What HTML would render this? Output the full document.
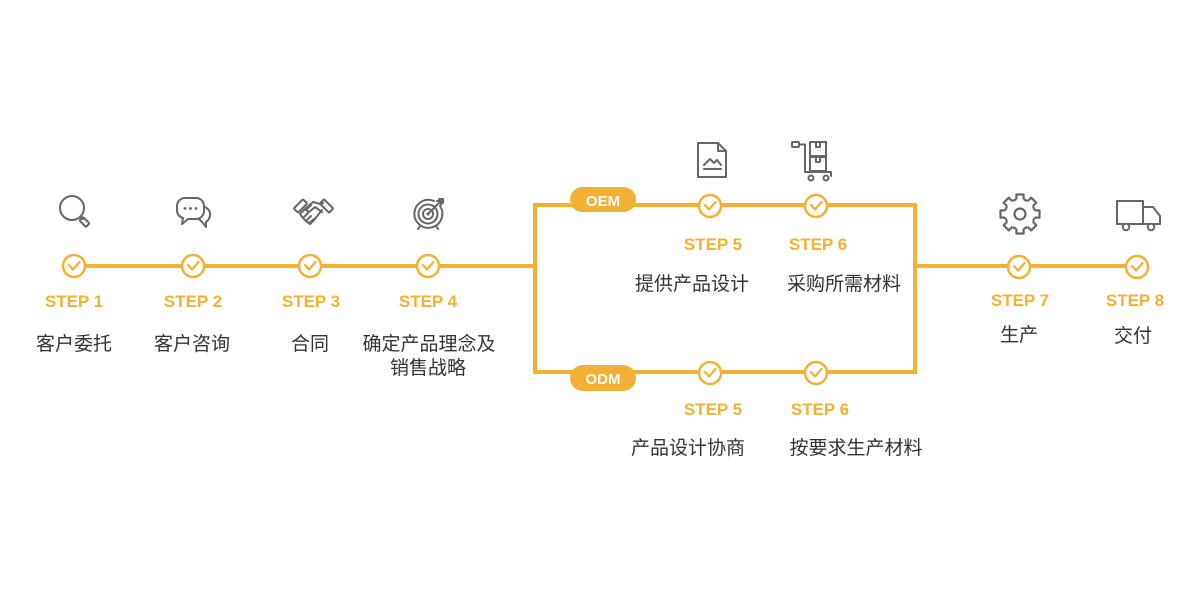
<!DOCTYPE html>
<html><head><meta charset="utf-8"><style>
html,body{margin:0;padding:0;background:#fff;}
svg{display:block;}
.st{font-family:"Liberation Sans","Noto Sans CJK SC",sans-serif;font-weight:bold;font-size:17px;fill:#f2b134;text-anchor:middle;}
.cn{font-family:"Liberation Sans","Noto Sans CJK SC",sans-serif;font-size:19px;fill:#333;text-anchor:middle;}
.pl{font-family:"Liberation Sans",sans-serif;font-weight:bold;font-size:15px;fill:#fff;text-anchor:middle;}
.ic{fill:none;stroke:#666;stroke-width:2;stroke-linejoin:round;stroke-linecap:round;}
</style></head><body>
<svg width="1200" height="594" viewBox="0 0 1200 594" xmlns="http://www.w3.org/2000/svg">
<defs>
<g id="ck">
<circle cx="0" cy="0" r="11" fill="#fff" stroke="#f2b134" stroke-width="2.5"/>
<path d="M-5,-1 L-1,3.5 L5.5,-4" fill="none" stroke="#f2b134" stroke-width="2.2" stroke-linecap="round" stroke-linejoin="round"/>
</g>
<g id="tooth">
<path d="M-3.6,-13 L-3.6,-19.5 L3.6,-19.5 L3.6,-13 Z" fill="#fff"/>
<path d="M-3.6,-14.6 L-3.6,-19.5 L3.6,-19.5 L3.6,-14.6" fill="none" stroke="#666" stroke-width="2.2" stroke-linejoin="round"/>
</g>
</defs>

<!-- lines -->
<g stroke="#f2b134" stroke-width="4" fill="none">
<line x1="74" y1="266" x2="537" y2="266"/>
<line x1="913" y1="266" x2="1137" y2="266"/>
<path d="M555,205 L535,205 L535,372 L555,372"/>
<path d="M535,205 L915,205 L915,372 L535,372"/>
</g>

<!-- pills -->
<rect x="570" y="187" width="66" height="25" rx="12.5" fill="#f2b134"/>
<text class="pl" x="603" y="206">OEM</text>
<rect x="570" y="365" width="66" height="26" rx="13" fill="#f2b134"/>
<text class="pl" x="603" y="384">ODM</text>

<!-- check circles -->
<use href="#ck" x="74" y="266"/>
<use href="#ck" x="193" y="266"/>
<use href="#ck" x="310" y="266"/>
<use href="#ck" x="428" y="266"/>
<use href="#ck" x="710" y="206"/>
<use href="#ck" x="816" y="206"/>
<use href="#ck" x="710" y="373"/>
<use href="#ck" x="816" y="373"/>
<use href="#ck" x="1019" y="267"/>
<use href="#ck" x="1137" y="267"/>

<!-- step labels -->
<text class="st" x="74" y="307">STEP 1</text>
<text class="st" x="193" y="307">STEP 2</text>
<text class="st" x="311" y="307">STEP 3</text>
<text class="st" x="428" y="307">STEP 4</text>
<text class="st" x="713" y="250">STEP 5</text>
<text class="st" x="818" y="250">STEP 6</text>
<text class="st" x="713" y="415">STEP 5</text>
<text class="st" x="820" y="415">STEP 6</text>
<text class="st" x="1020" y="306">STEP 7</text>
<text class="st" x="1135" y="306">STEP 8</text>

<!-- chinese text -->
<text class="cn" x="74" y="350">客户委托</text>
<text class="cn" x="192" y="350">客户咨询</text>
<text class="cn" x="310" y="350">合同</text>
<text class="cn" x="429" y="350">确定产品理念及</text>
<text class="cn" x="428" y="374">销售战略</text>
<text class="cn" x="692" y="290">提供产品设计</text>
<text class="cn" x="844" y="290">采购所需材料</text>
<text class="cn" x="688" y="454">产品设计协商</text>
<text class="cn" x="856" y="454">按要求生产材料</text>
<text class="cn" x="1019" y="341">生产</text>
<text class="cn" x="1133" y="342">交付</text>

<!-- icons -->
<!-- search -->
<g class="ic">
<circle cx="72" cy="208" r="12"/>
<path d="M80.5,216.5 L83,219"/>
<rect x="82" y="217.5" width="5" height="9" rx="1" transform="rotate(-45 84.5 222)"/>
</g>
<!-- chat -->
<g class="ic">
<path d="M199,219 L203,223 L206,227 L206,222 A9,9 0 0 0 210,214 A10,8 0 0 0 201,206"/>
<path d="M185,198 L196,198 A8,8 0 0 1 204,206 L204,211 A8,8 0 0 1 196,219 L188,219 L182,224 L183,218 A8,8 0 0 1 177,211 L177,206 A8,8 0 0 1 185,198 Z" fill="#fff"/>
</g>
<g fill="#666"><circle cx="185" cy="208.5" r="1.4"/><circle cx="190.5" cy="208.5" r="1.4"/><circle cx="196" cy="208.5" r="1.4"/></g>
<!-- handshake -->
<g class="ic">
<rect x="294" y="203" width="13" height="6" rx="1" transform="rotate(-45 300.5 206)"/>
<rect x="320" y="203" width="13" height="6" rx="1" transform="rotate(45 326.5 206)"/>
<path d="M304,210 L313,202 L320,204 L323,203"/>
<path d="M311,205 L306,210 L309,212 L315,207 L322,212"/>
<path d="M322,210 L314,220 L310,224 L307,222 L303,218 L300,214 L304,210"/>
<path d="M303,218 L308,213 M306,221 L311,216 M309,223 L314,219"/>
</g>
<!-- target -->
<g class="ic">
<path d="M440,206 A14,14 0 1 1 434,201"/>
<circle cx="428" cy="214" r="9.5"/>
<circle cx="428" cy="214" r="5"/>
<path d="M428,214 L441,201"/>
<path d="M437,201 L441,201 L441,205 M439,199 L443,199 L443,203"/>
<path d="M420,226 L418,229 M436,226 L438,229"/>
</g>
<circle cx="428" cy="214" r="1.6" fill="#666"/>
<!-- document -->
<g class="ic">
<path d="M698,143 L718,143 L726,151 L726,177 L698,177 Z"/>
<path d="M718,143 L718,151 L726,151"/>
<path d="M704,165 L710,159 L714,163 L717,160 L721,165"/>
<path d="M704,169 L721,169"/>
</g>
<!-- cart -->
<g class="ic">
<rect x="792" y="142" width="7" height="5" rx="1"/>
<path d="M799,144.5 L805,144.5 L805,172"/>
<path d="M805,172 L831,172 L831,176"/>
<rect x="810" y="142" width="16" height="14"/>
<rect x="810" y="157" width="16" height="14"/>
<path d="M816,142 L816,147 L820,147 L820,142 M816,157 L816,162 L820,162 L820,157"/>
</g>
<g fill="#fff" stroke="#666" stroke-width="2"><circle cx="811" cy="178" r="2.5"/><circle cx="826" cy="178" r="2.5"/></g>
<!-- gear -->
<g>
<circle cx="1020" cy="214" r="15" fill="none" stroke="#666" stroke-width="2.2"/>
<use href="#tooth" transform="translate(1020 214) rotate(0)"/>
<use href="#tooth" transform="translate(1020 214) rotate(45)"/>
<use href="#tooth" transform="translate(1020 214) rotate(90)"/>
<use href="#tooth" transform="translate(1020 214) rotate(135)"/>
<use href="#tooth" transform="translate(1020 214) rotate(180)"/>
<use href="#tooth" transform="translate(1020 214) rotate(225)"/>
<use href="#tooth" transform="translate(1020 214) rotate(270)"/>
<use href="#tooth" transform="translate(1020 214) rotate(315)"/>
<circle cx="1020" cy="214" r="5.5" fill="none" stroke="#666" stroke-width="2.2"/>
</g>
<!-- truck -->
<g class="ic">
<rect x="1117" y="201" width="26" height="23"/>
<path d="M1143,207 L1153,207 L1160,216 L1160,224 L1143,224"/>
<path d="M1117,224 L1160,224"/>
</g>
<g fill="#fff" stroke="#666" stroke-width="2"><circle cx="1126" cy="227" r="3.3"/><circle cx="1151" cy="227" r="3.3"/></g>
</svg>
</body></html>
